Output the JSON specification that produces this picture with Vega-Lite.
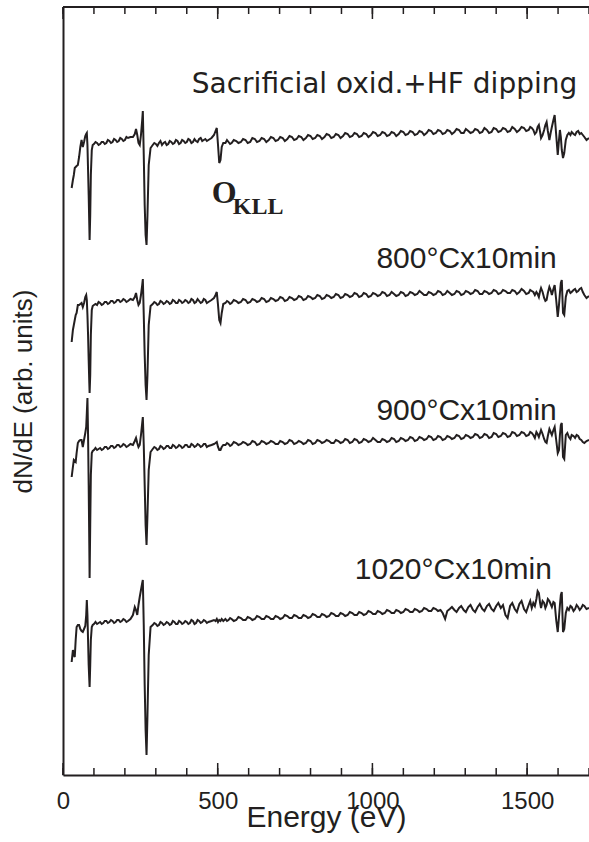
{
  "$schema": "https://vega.github.io/schema/vega-lite/v6.json",
  "width": 526,
  "height": 768,
  "autosize": "none",
  "padding": {"left": 63, "top": 7, "right": 0, "bottom": 67},
  "config": {"view": {"stroke": "transparent"}, "font": "Liberation Sans"},
  "datasets": {
    "minorTicks": [{"t":0},{"t":100},{"t":200},{"t":300},{"t":400},{"t":500},{"t":600},{"t":700},{"t":800},{"t":900},{"t":1000},{"t":1100},{"t":1200},{"t":1300},{"t":1400},{"t":1500},{"t":1600},{"t":1700}],
    "majorTicks": [{"t":0},{"t":500},{"t":1000},{"t":1500}]
  },
  "layer": [
    {
      "data": {
        "values": [
          {"e":28,"a":587,"b":433,"c":298,"d":113},
          {"e":32,"a":595,"b":445,"c":308,"d":125},
          {"e":35,"a":600,"b":450,"c":315,"d":120},
          {"e":38,"a":607,"b":455,"c":314,"d":118},
          {"e":41,"a":608,"b":460,"c":313,"d":135},
          {"e":44,"a":609,"b":462,"c":322,"d":148},
          {"e":48,"a":610,"b":470,"c":332,"d":150},
          {"e":52,"a":618,"b":470,"c":334,"d":150},
          {"e":56,"a":628,"b":471,"c":335,"d":146},
          {"e":60,"a":635,"b":472,"c":335,"d":144},
          {"e":64,"a":628,"b":468,"c":328,"d":143},
          {"e":68,"a":633,"b":472,"c":335,"d":146},
          {"e":72,"a":639,"b":478,"c":342,"d":149},
          {"e":75,"a":641,"b":480,"c":348,"d":160},
          {"e":77,"a":642,"b":475,"c":362,"d":175},
          {"e":79,"a":630,"b":460,"c":377,"d":160},
          {"e":81,"a":605,"b":440,"c":340,"d":135},
          {"e":83,"a":580,"b":415,"c":290,"d":110},
          {"e":85,"a":550,"b":392,"c":230,"d":95},
          {"e":86,"a":535,"b":382,"c":197,"d":88},
          {"e":88,"a":560,"b":400,"c":250,"d":110},
          {"e":90,"a":600,"b":440,"c":300,"d":135},
          {"e":93,"a":625,"b":465,"c":322,"d":148},
          {"e":96,"a":630,"b":469,"c":324,"d":150},
          {"e":100,"a":631,"b":470,"c":325,"d":151},
          {"e":105,"a":633,"b":471,"c":327,"d":153},
          {"e":110,"a":632,"b":470,"c":325,"d":151},
          {"e":115,"a":630,"b":473,"c":326,"d":152},
          {"e":120,"a":631,"b":472,"c":327,"d":153},
          {"e":125,"a":633,"b":470,"c":325,"d":151},
          {"e":130,"a":633,"b":471,"c":326,"d":152},
          {"e":135,"a":631,"b":473,"c":328,"d":154},
          {"e":140,"a":632,"b":473,"c":328,"d":154},
          {"e":145,"a":635,"b":471,"c":326,"d":152},
          {"e":150,"a":634,"b":472,"c":327,"d":153},
          {"e":155,"a":632,"b":474,"c":329,"d":155},
          {"e":160,"a":633,"b":474,"c":329,"d":154},
          {"e":165,"a":636,"b":472,"c":327,"d":152},
          {"e":170,"a":635,"b":473,"c":328,"d":153},
          {"e":175,"a":633,"b":475,"c":330,"d":155},
          {"e":180,"a":634,"b":475,"c":330,"d":155},
          {"e":185,"a":637,"b":473,"c":328,"d":153},
          {"e":190,"a":636,"b":474,"c":329,"d":154},
          {"e":195,"a":634,"b":476,"c":331,"d":156},
          {"e":200,"a":635,"b":475,"c":330,"d":155},
          {"e":205,"a":638,"b":473,"c":328,"d":153},
          {"e":210,"a":637,"b":474,"c":329,"d":154},
          {"e":218,"a":638,"b":476,"c":331,"d":156},
          {"e":226,"a":638,"b":475,"c":330,"d":160},
          {"e":232,"a":641,"b":478,"c":334,"d":168},
          {"e":236,"a":646,"b":482,"c":337,"d":165},
          {"e":240,"a":640,"b":475,"c":332,"d":160},
          {"e":244,"a":632,"b":470,"c":328,"d":170},
          {"e":248,"a":630,"b":472,"c":330,"d":178},
          {"e":252,"a":640,"b":480,"c":340,"d":185},
          {"e":256,"a":655,"b":490,"c":352,"d":192},
          {"e":258,"a":664,"b":496,"c":358,"d":195},
          {"e":261,"a":620,"b":460,"c":330,"d":150},
          {"e":264,"a":570,"b":420,"c":290,"d":90},
          {"e":267,"a":540,"b":390,"c":250,"d":45},
          {"e":270,"a":530,"b":375,"c":230,"d":20},
          {"e":273,"a":560,"b":400,"c":260,"d":60},
          {"e":277,"a":610,"b":450,"c":305,"d":120},
          {"e":283,"a":627,"b":469,"c":323,"d":148},
          {"e":290,"a":630,"b":471,"c":326,"d":150},
          {"e":295,"a":632,"b":473,"c":328,"d":152},
          {"e":300,"a":631,"b":472,"c":327,"d":151},
          {"e":305,"a":629,"b":470,"c":325,"d":149},
          {"e":310,"a":632,"b":471,"c":326,"d":150},
          {"e":315,"a":634,"b":474,"c":329,"d":153},
          {"e":320,"a":630,"b":473,"c":328,"d":152},
          {"e":325,"a":632,"b":471,"c":326,"d":150},
          {"e":330,"a":633,"b":472,"c":327,"d":151},
          {"e":335,"a":630,"b":474,"c":329,"d":153},
          {"e":340,"a":631,"b":473,"c":329,"d":152},
          {"e":345,"a":634,"b":471,"c":327,"d":150},
          {"e":350,"a":633,"b":472,"c":327,"d":151},
          {"e":355,"a":631,"b":475,"c":330,"d":154},
          {"e":360,"a":632,"b":474,"c":329,"d":153},
          {"e":365,"a":635,"b":472,"c":327,"d":151},
          {"e":370,"a":634,"b":472,"c":328,"d":151},
          {"e":375,"a":631,"b":475,"c":330,"d":154},
          {"e":380,"a":632,"b":474,"c":329,"d":153},
          {"e":385,"a":635,"b":472,"c":327,"d":151},
          {"e":390,"a":634,"b":473,"c":328,"d":152},
          {"e":395,"a":632,"b":475,"c":330,"d":154},
          {"e":400,"a":633,"b":474,"c":330,"d":153},
          {"e":405,"a":636,"b":472,"c":328,"d":151},
          {"e":410,"a":635,"b":473,"c":328,"d":152},
          {"e":415,"a":632,"b":476,"c":331,"d":155},
          {"e":420,"a":633,"b":475,"c":330,"d":154},
          {"e":425,"a":636,"b":472,"c":328,"d":151},
          {"e":430,"a":634,"b":473,"c":329,"d":152},
          {"e":435,"a":633,"b":476,"c":331,"d":155},
          {"e":440,"a":636,"b":474,"c":330,"d":154},
          {"e":445,"a":637,"b":472,"c":328,"d":152},
          {"e":450,"a":634,"b":473,"c":329,"d":153},
          {"e":455,"a":635,"b":476,"c":331,"d":155},
          {"e":460,"a":636,"b":475,"c":331,"d":154},
          {"e":465,"a":634,"b":472,"c":328,"d":152},
          {"e":470,"a":635,"b":473,"c":329,"d":153},
          {"e":480,"a":637,"b":475,"c":330,"d":154},
          {"e":488,"a":640,"b":477,"c":331,"d":155},
          {"e":493,"a":644,"b":480,"c":332,"d":154},
          {"e":497,"a":647,"b":483,"c":333,"d":156},
          {"e":501,"a":630,"b":470,"c":328,"d":153},
          {"e":505,"a":612,"b":455,"c":325,"d":155},
          {"e":509,"a":615,"b":452,"c":325,"d":154},
          {"e":513,"a":628,"b":462,"c":328,"d":156},
          {"e":518,"a":632,"b":471,"c":330,"d":154},
          {"e":525,"a":632,"b":472,"c":330,"d":156},
          {"e":530,"a":635,"b":474,"c":332,"d":154},
          {"e":535,"a":633,"b":473,"c":331,"d":155},
          {"e":540,"a":631,"b":471,"c":329,"d":157},
          {"e":545,"a":632,"b":472,"c":330,"d":156},
          {"e":552,"a":635,"b":475,"c":333,"d":154},
          {"e":560,"a":634,"b":474,"c":332,"d":155},
          {"e":567,"a":632,"b":472,"c":330,"d":158},
          {"e":575,"a":633,"b":473,"c":331,"d":157},
          {"e":582,"a":636,"b":476,"c":333,"d":155},
          {"e":590,"a":635,"b":475,"c":332,"d":155},
          {"e":597,"a":632,"b":472,"c":330,"d":158},
          {"e":605,"a":633,"b":473,"c":331,"d":157},
          {"e":612,"a":637,"b":476,"c":334,"d":155},
          {"e":620,"a":636,"b":475,"c":333,"d":156},
          {"e":627,"a":633,"b":473,"c":330,"d":159},
          {"e":635,"a":634,"b":474,"c":331,"d":158},
          {"e":642,"a":637,"b":477,"c":334,"d":156},
          {"e":650,"a":636,"b":476,"c":333,"d":156},
          {"e":657,"a":633,"b":473,"c":331,"d":159},
          {"e":665,"a":635,"b":474,"c":332,"d":158},
          {"e":672,"a":638,"b":477,"c":334,"d":156},
          {"e":680,"a":637,"b":476,"c":333,"d":156},
          {"e":687,"a":634,"b":474,"c":331,"d":159},
          {"e":695,"a":635,"b":475,"c":331,"d":158},
          {"e":702,"a":638,"b":478,"c":334,"d":156},
          {"e":710,"a":637,"b":477,"c":333,"d":157},
          {"e":717,"a":634,"b":474,"c":331,"d":160},
          {"e":725,"a":636,"b":475,"c":332,"d":159},
          {"e":732,"a":639,"b":478,"c":335,"d":157},
          {"e":740,"a":638,"b":477,"c":334,"d":157},
          {"e":747,"a":635,"b":475,"c":331,"d":160},
          {"e":755,"a":636,"b":476,"c":332,"d":159},
          {"e":762,"a":639,"b":479,"c":334,"d":157},
          {"e":770,"a":638,"b":478,"c":333,"d":157},
          {"e":777,"a":635,"b":475,"c":331,"d":160},
          {"e":785,"a":637,"b":476,"c":332,"d":159},
          {"e":792,"a":640,"b":479,"c":335,"d":157},
          {"e":800,"a":639,"b":478,"c":334,"d":158},
          {"e":807,"a":636,"b":476,"c":331,"d":161},
          {"e":815,"a":637,"b":477,"c":332,"d":160},
          {"e":822,"a":640,"b":480,"c":335,"d":158},
          {"e":830,"a":639,"b":479,"c":334,"d":158},
          {"e":837,"a":636,"b":476,"c":332,"d":161},
          {"e":845,"a":638,"b":477,"c":333,"d":160},
          {"e":852,"a":641,"b":480,"c":335,"d":158},
          {"e":860,"a":640,"b":479,"c":334,"d":159},
          {"e":867,"a":637,"b":477,"c":332,"d":162},
          {"e":875,"a":638,"b":478,"c":332,"d":161},
          {"e":882,"a":641,"b":481,"c":335,"d":159},
          {"e":890,"a":640,"b":480,"c":334,"d":159},
          {"e":897,"a":637,"b":477,"c":332,"d":162},
          {"e":905,"a":639,"b":478,"c":333,"d":161},
          {"e":912,"a":642,"b":481,"c":336,"d":159},
          {"e":920,"a":641,"b":480,"c":335,"d":160},
          {"e":927,"a":638,"b":478,"c":332,"d":163},
          {"e":935,"a":639,"b":479,"c":333,"d":162},
          {"e":942,"a":642,"b":482,"c":336,"d":160},
          {"e":950,"a":641,"b":481,"c":335,"d":160},
          {"e":957,"a":638,"b":478,"c":332,"d":163},
          {"e":965,"a":639,"b":479,"c":333,"d":162},
          {"e":972,"a":642,"b":482,"c":336,"d":160},
          {"e":980,"a":641,"b":481,"c":335,"d":161},
          {"e":987,"a":638,"b":478,"c":333,"d":164},
          {"e":995,"a":640,"b":479,"c":334,"d":163},
          {"e":1002,"a":643,"b":482,"c":337,"d":161},
          {"e":1010,"a":642,"b":481,"c":335,"d":161},
          {"e":1017,"a":639,"b":479,"c":333,"d":164},
          {"e":1025,"a":640,"b":480,"c":333,"d":163},
          {"e":1032,"a":643,"b":483,"c":336,"d":161},
          {"e":1040,"a":642,"b":482,"c":335,"d":162},
          {"e":1047,"a":639,"b":479,"c":333,"d":165},
          {"e":1055,"a":640,"b":480,"c":334,"d":164},
          {"e":1062,"a":643,"b":483,"c":337,"d":162},
          {"e":1070,"a":642,"b":481,"c":336,"d":162},
          {"e":1077,"a":639,"b":479,"c":333,"d":165},
          {"e":1085,"a":641,"b":480,"c":334,"d":164},
          {"e":1092,"a":644,"b":483,"c":337,"d":162},
          {"e":1100,"a":643,"b":482,"c":336,"d":163},
          {"e":1107,"a":640,"b":479,"c":334,"d":166},
          {"e":1115,"a":641,"b":480,"c":335,"d":165},
          {"e":1122,"a":644,"b":483,"c":338,"d":163},
          {"e":1130,"a":643,"b":482,"c":337,"d":163},
          {"e":1137,"a":640,"b":480,"c":334,"d":166},
          {"e":1145,"a":641,"b":481,"c":335,"d":165},
          {"e":1152,"a":644,"b":484,"c":338,"d":163},
          {"e":1160,"a":643,"b":482,"c":337,"d":164},
          {"e":1167,"a":640,"b":480,"c":335,"d":167},
          {"e":1175,"a":642,"b":480,"c":336,"d":166},
          {"e":1182,"a":645,"b":483,"c":339,"d":164},
          {"e":1190,"a":644,"b":482,"c":338,"d":164},
          {"e":1197,"a":641,"b":480,"c":335,"d":167},
          {"e":1205,"a":642,"b":481,"c":336,"d":166},
          {"e":1212,"a":645,"b":484,"c":339,"d":164},
          {"e":1220,"a":644,"b":483,"c":338,"d":165},
          {"e":1227,"a":641,"b":480,"c":335,"d":162},
          {"e":1235,"a":642,"b":481,"c":336,"d":156},
          {"e":1242,"a":645,"b":484,"c":339,"d":164},
          {"e":1250,"a":644,"b":482,"c":338,"d":166},
          {"e":1257,"a":641,"b":480,"c":336,"d":168},
          {"e":1265,"a":643,"b":481,"c":337,"d":165},
          {"e":1272,"a":646,"b":484,"c":340,"d":163},
          {"e":1280,"a":645,"b":483,"c":339,"d":167},
          {"e":1287,"a":642,"b":480,"c":336,"d":169},
          {"e":1295,"a":642,"b":481,"c":337,"d":165},
          {"e":1302,"a":646,"b":484,"c":340,"d":163},
          {"e":1310,"a":644,"b":483,"c":339,"d":168},
          {"e":1317,"a":642,"b":481,"c":337,"d":170},
          {"e":1325,"a":643,"b":482,"c":338,"d":165},
          {"e":1332,"a":646,"b":485,"c":341,"d":163},
          {"e":1340,"a":645,"b":484,"c":340,"d":168},
          {"e":1347,"a":642,"b":481,"c":337,"d":171},
          {"e":1355,"a":643,"b":481,"c":338,"d":166},
          {"e":1362,"a":647,"b":484,"c":341,"d":164},
          {"e":1370,"a":645,"b":483,"c":340,"d":169},
          {"e":1377,"a":642,"b":481,"c":337,"d":171},
          {"e":1385,"a":643,"b":482,"c":338,"d":166},
          {"e":1392,"a":647,"b":485,"c":342,"d":164},
          {"e":1400,"a":646,"b":484,"c":341,"d":169},
          {"e":1407,"a":643,"b":481,"c":338,"d":172},
          {"e":1415,"a":644,"b":482,"c":339,"d":167},
          {"e":1422,"a":647,"b":485,"c":342,"d":170},
          {"e":1430,"a":646,"b":484,"c":341,"d":160},
          {"e":1437,"a":643,"b":482,"c":338,"d":157},
          {"e":1445,"a":644,"b":482,"c":339,"d":169},
          {"e":1452,"a":648,"b":485,"c":343,"d":172},
          {"e":1460,"a":646,"b":484,"c":342,"d":166},
          {"e":1467,"a":643,"b":481,"c":339,"d":163},
          {"e":1475,"a":645,"b":483,"c":340,"d":171},
          {"e":1482,"a":648,"b":486,"c":343,"d":174},
          {"e":1490,"a":647,"b":484,"c":342,"d":166},
          {"e":1497,"a":644,"b":481,"c":339,"d":163},
          {"e":1505,"a":645,"b":482,"c":340,"d":170},
          {"e":1510,"a":648,"b":485,"c":343,"d":174},
          {"e":1515,"a":647,"b":484,"c":342,"d":167},
          {"e":1520,"a":645,"b":483,"c":340,"d":172},
          {"e":1525,"a":641,"b":480,"c":337,"d":169},
          {"e":1530,"a":643,"b":483,"c":343,"d":176},
          {"e":1534,"a":648,"b":481,"c":341,"d":184},
          {"e":1538,"a":650,"b":478,"c":338,"d":182},
          {"e":1542,"a":643,"b":484,"c":342,"d":172},
          {"e":1545,"a":637,"b":487,"c":345,"d":167},
          {"e":1550,"a":640,"b":483,"c":341,"d":174},
          {"e":1555,"a":645,"b":477,"c":336,"d":172},
          {"e":1559,"a":650,"b":474,"c":333,"d":167},
          {"e":1563,"a":653,"b":475,"c":332,"d":170},
          {"e":1567,"a":644,"b":482,"c":339,"d":176},
          {"e":1572,"a":635,"b":488,"c":346,"d":174},
          {"e":1576,"a":642,"b":485,"c":343,"d":171},
          {"e":1580,"a":648,"b":480,"c":340,"d":168},
          {"e":1585,"a":655,"b":486,"c":345,"d":173},
          {"e":1589,"a":660,"b":490,"c":348,"d":172},
          {"e":1594,"a":640,"b":475,"c":335,"d":155},
          {"e":1599,"a":620,"b":458,"c":322,"d":143},
          {"e":1603,"a":635,"b":470,"c":325,"d":158},
          {"e":1606,"a":645,"b":482,"c":340,"d":170},
          {"e":1609,"a":638,"b":492,"c":350,"d":180},
          {"e":1612,"a":625,"b":495,"c":352,"d":183},
          {"e":1616,"a":617,"b":462,"c":318,"d":143},
          {"e":1620,"a":622,"b":460,"c":316,"d":146},
          {"e":1625,"a":635,"b":478,"c":340,"d":162},
          {"e":1630,"a":640,"b":484,"c":342,"d":167},
          {"e":1635,"a":642,"b":485,"c":338,"d":165},
          {"e":1640,"a":640,"b":482,"c":336,"d":169},
          {"e":1644,"a":643,"b":483,"c":340,"d":168},
          {"e":1650,"a":641,"b":485,"c":339,"d":164},
          {"e":1655,"a":640,"b":486,"c":337,"d":166},
          {"e":1660,"a":643,"b":483,"c":340,"d":170},
          {"e":1665,"a":644,"b":484,"c":339,"d":168},
          {"e":1670,"a":641,"b":486,"c":336,"d":165},
          {"e":1675,"a":642,"b":487,"c":335,"d":167},
          {"e":1680,"a":640,"b":483,"c":333,"d":170},
          {"e":1685,"a":638,"b":480,"c":332,"d":169},
          {"e":1692,"a":635,"b":477,"c":334,"d":166},
          {"e":1700,"a":637,"b":479,"c":335,"d":167}
        ]
      },
      "transform": [{"fold": ["a", "b", "c", "d"], "as": ["series", "v"]}],
      "mark": {"type": "line", "color": "#231f20", "strokeWidth": 2},
      "encoding": {
        "x": {
          "field": "e",
          "type": "quantitative",
          "scale": {"domain": [0, 1700], "nice": false, "zero": false},
          "axis": {
            "orient": "bottom",
            "values": [0, 500, 1000, 1500],
            "format": "d",
            "labelOverlap": false,
            "labelFlush": false,
            "labelFont": "Liberation Sans",
            "labelFontSize": 24,
            "labelColor": "#231f20",
            "labelPadding": 14,
            "ticks": false,
            "domainWidth": 2,
            "domainColor": "#231f20",
            "grid": false,
            "title": "Energy (eV)",
            "titleFont": "Liberation Sans",
            "titleFontSize": 30,
            "titleFontWeight": "normal",
            "titleColor": "#231f20",
            "titlePadding": -11
          }
        },
        "y": {
          "field": "v",
          "type": "quantitative",
          "scale": {"domain": [0, 768], "nice": false, "zero": false},
          "axis": {
            "orient": "left",
            "ticks": false,
            "labels": false,
            "grid": false,
            "domainWidth": 2,
            "domainColor": "#231f20",
            "title": "dN/dE (arb. units)",
            "titleFont": "Liberation Sans",
            "titleFontSize": 26,
            "titleFontWeight": "normal",
            "titleColor": "#231f20",
            "titlePadding": 27
          }
        },
        "detail": {"field": "series", "type": "nominal"}
      }
    },
    {
      "data": {"name": "minorTicks"},
      "mark": {"type": "rule", "color": "#231f20", "strokeWidth": 1.5},
      "encoding": {
        "x": {"field": "t", "type": "quantitative"},
        "y": {"datum": 0},
        "y2": {"datum": 7}
      }
    },
    {
      "data": {"name": "minorTicks"},
      "mark": {"type": "rule", "color": "#231f20", "strokeWidth": 1.5},
      "encoding": {
        "x": {"field": "t", "type": "quantitative"},
        "y": {"datum": 768},
        "y2": {"datum": 761}
      }
    },
    {
      "data": {"name": "majorTicks"},
      "mark": {"type": "rule", "color": "#231f20", "strokeWidth": 1.5},
      "encoding": {
        "x": {"field": "t", "type": "quantitative"},
        "y": {"datum": 0},
        "y2": {"datum": 12}
      }
    },
    {
      "data": {"name": "majorTicks"},
      "mark": {"type": "rule", "color": "#231f20", "strokeWidth": 1.5},
      "encoding": {
        "x": {"field": "t", "type": "quantitative"},
        "y": {"datum": 768},
        "y2": {"datum": 756}
      }
    },
    {
      "data": {"values": [{"t": 0}]},
      "mark": {"type": "rule", "color": "#231f20", "strokeWidth": 2},
      "encoding": {
        "x": {"datum": 0},
        "x2": {"datum": 1700},
        "y": {"datum": 768}
      }
    },
    {
      "data": {"values": [{"e": 1662, "v": 682, "label": "Sacrificial oxid.+HF dipping"}]},
      "mark": {"type": "text", "align": "right", "baseline": "alphabetic", "font": "DejaVu Sans", "fontSize": 28, "color": "#231f20"},
      "encoding": {
        "x": {"field": "e", "type": "quantitative"},
        "y": {"field": "v", "type": "quantitative"},
        "text": {"field": "label"}
      }
    },
    {
      "data": {"values": [
        {"e": 1596, "v": 507, "label": "800°Cx10min"},
        {"e": 1596, "v": 355, "label": "900°Cx10min"},
        {"e": 1580, "v": 196, "label": "1020°Cx10min"}
      ]},
      "mark": {"type": "text", "align": "right", "baseline": "alphabetic", "font": "Liberation Sans", "fontSize": 30, "color": "#231f20"},
      "encoding": {
        "x": {"field": "e", "type": "quantitative"},
        "y": {"field": "v", "type": "quantitative"},
        "text": {"field": "label"}
      }
    },
    {
      "data": {"values": [{"e": 481, "v": 572, "label": "O"}]},
      "mark": {"type": "text", "align": "left", "baseline": "alphabetic", "font": "Liberation Serif", "fontWeight": "bold", "fontSize": 32, "color": "#231f20"},
      "encoding": {
        "x": {"field": "e", "type": "quantitative"},
        "y": {"field": "v", "type": "quantitative"},
        "text": {"field": "label"}
      }
    },
    {
      "data": {"values": [{"e": 549, "v": 561, "label": "KLL"}]},
      "mark": {"type": "text", "align": "left", "baseline": "alphabetic", "font": "Liberation Serif", "fontWeight": "bold", "fontSize": 24, "color": "#231f20"},
      "encoding": {
        "x": {"field": "e", "type": "quantitative"},
        "y": {"field": "v", "type": "quantitative"},
        "text": {"field": "label"}
      }
    }
  ]
}
